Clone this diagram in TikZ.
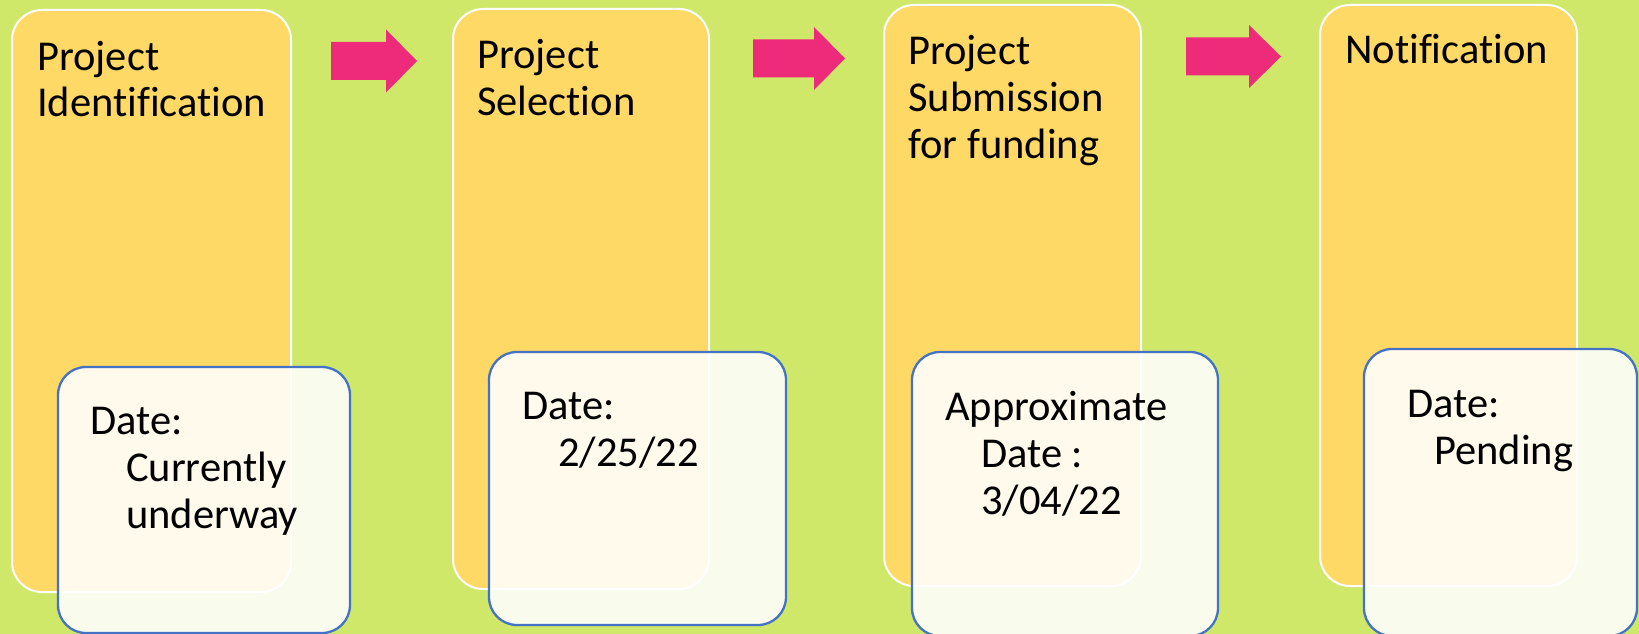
\documentclass[tikz,border=0pt]{standalone}
\usepackage{fontspec}
\setmainfont{Carlito}[Ligatures=NoCommon]
\definecolor{bggreen}{HTML}{CFE86A}
\definecolor{stageyellow}{HTML}{FFD966}
\definecolor{arrowpink}{HTML}{EE2A7B}
\definecolor{dateblue}{HTML}{4472C4}
\tikzstyle{stage}=[rectangle,rounded corners=30pt,draw=white,line width=2pt,fill=stageyellow,inner sep=0,outer sep=0,anchor=north west]
\tikzstyle{datebox}=[rectangle,rounded corners=28pt,draw=dateblue,line width=2.3pt,fill=white,fill opacity=0.88,inner sep=0,outer sep=0,anchor=north west]
% base of a text node = baseline of its last line
\tikzstyle{txt}=[inner sep=0,anchor=base west,align=left,font=\fontsize{42.5}{47}\selectfont]
\tikzstyle{bigarrow}=[fill=arrowpink]
\newcommand{\ind}{\hspace*{36pt}}

\begin{document}
\begin{tikzpicture}[x=1pt,y=-1pt]
\useasboundingbox (0,0) rectangle (1639,634);
\fill[bggreen] (0,0) rectangle (1639,634);

% yellow stages
\foreach \n/\l/\t/\r/\b in {1/12/10/291/592, 2/453/9/709/589, 3/884/5/1141/586, 4/1320/5/1577/586}{
	\node[stage,minimum width=\r-\l,minimum height=\b-\t] (st\n) at (\l,\t) {};
}
\node[txt] (t1) at (37,117) {Project\\Identification};
\node[txt] (t2) at (477,115) {Project\\Selection};
\node[txt] (t3) at (908,158) {Project\\Submission\\for funding};
\node[txt] (t4) at (1345,64) {Notification};

% arrows
\foreach \a/\h/\c/\m in {331/386/417/61, 753/814/845/58.5, 1186/1249/1281/56.5}{
	\fill[bigarrow] (\a,\m-19)--(\h,\m-19)--(\h,\m-31.5)--(\c,\m)--(\h,\m+31.5)--(\h,\m+19)--(\a,\m+19)--cycle;
}

% date boxes
\foreach \n/\l/\t/\r/\b in {1/58/367/350/633, 2/489/352/786/625, 3/912/352/1218/636, 4/1364/349/1637/636}{
	\node[datebox,minimum width=\r-\l,minimum height=\b-\t] (d\n) at (\l,\t) {};
}
\node[txt] (dt1) at (90,528) {Date:\\\ind Currently\\\ind underway};
\node[txt] (dt2) at (522,466) {Date:\\\ind 2/25/22};
\node[txt] (dt3) at (945,514) {Approximate\\\ind Date :\\\ind 3/04/22};
\node[txt] (dt4) at (1407,464) {Date:\\\hspace*{27pt}Pending};
\end{tikzpicture}
\end{document}
